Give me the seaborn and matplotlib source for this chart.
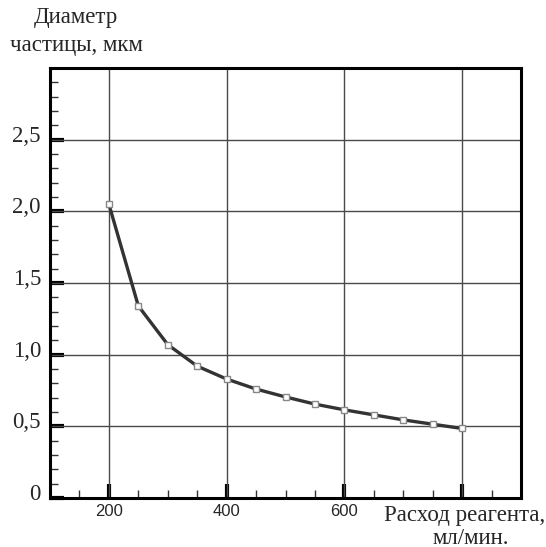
import matplotlib
matplotlib.use("Agg")
import matplotlib.pyplot as plt
import matplotlib.transforms as mtransforms
from matplotlib.ticker import MultipleLocator, FixedLocator
import seaborn as sns
import pandas as pd

# Data
flow_rate = [200, 250, 300, 350, 400, 450, 500, 550, 600, 650, 700, 750, 800]
diameter = [2.05, 1.34, 1.07, 0.92, 0.83, 0.76, 0.705, 0.655, 0.615, 0.58, 0.545, 0.515, 0.485]
x_ticks = [200, 400, 600, 800]
x_tick_labels = ["200", "400", "600", ""]
y_ticks = [0, 0.5, 1.0, 1.5, 2.0, 2.5]
y_tick_labels = ["0", "0,5", "1,0", "1,5", "2,0", "2,5"]

sns.set_style("ticks")
plt.rcParams['font.family'] = ['Liberation Serif', 'DejaVu Serif']

df = pd.DataFrame({"x": flow_rate, "y": diameter})

fig = plt.figure(figsize=(5.46, 5.47), dpi=100)
ax = fig.add_axes([50/546, 1-498/547, (521-50)/546, (498-68)/547])

# grid lines
for xv in x_ticks:
    ax.axvline(xv, color="#4a4a4a", lw=1.0, zorder=1)
for yv in y_ticks[1:]:
    ax.axhline(yv, color="#4a4a4a", lw=1.0, zorder=1)

sns.lineplot(data=df, x="x", y="y", ax=ax, color="#333333", lw=2.4,
             marker="s", markersize=5, markerfacecolor="white",
             markeredgecolor="#888888", markeredgewidth=1.0, zorder=3)

ax.set_xlim(100, 900)
ax.set_ylim(0, 3.0)
ax.xaxis.set_major_locator(FixedLocator(x_ticks))
ax.xaxis.set_minor_locator(MultipleLocator(50))
ax.yaxis.set_major_locator(FixedLocator(y_ticks))
ax.yaxis.set_minor_locator(MultipleLocator(0.1))
ax.set_xticklabels(x_tick_labels, family=['Liberation Sans'], fontsize=12)
ax.set_yticklabels(y_tick_labels, family=['Liberation Serif'], fontsize=16.5)
ax.set_xlabel("")
ax.set_ylabel("")

ax.tick_params(axis='both', which='major', direction='in', length=10, width=3, color='black')
ax.tick_params(axis='both', which='minor', direction='in', length=6, width=1, color='#333333')
ax.tick_params(axis='y', which='major', pad=6.5)
ax.tick_params(axis='x', which='major', pad=4)

# shift y tick labels slightly up
offset = mtransforms.ScaledTranslation(0, 6/100, fig.dpi_scale_trans)
for lab in ax.get_yticklabels():
    lab.set_transform(lab.get_transform() + offset)

for s in ax.spines.values():
    s.set_linewidth(2.2)
    s.set_color("black")
    s.set_visible(True)

fig.text(76/546, 1-18/547, "Диаметр", ha="center", va="center", fontsize=16.5)
fig.text(76/546, 1-45/547, "частицы, мкм", ha="center", va="center", fontsize=16.5)
fig.text(465/546, 1-516/547, "Расход реагента,", ha="center", va="center", fontsize=16.5)
fig.text(471/546, 1-538/547, "мл/мин.", ha="center", va="center", fontsize=16.5)

fig.savefig("out.png", dpi=100)
